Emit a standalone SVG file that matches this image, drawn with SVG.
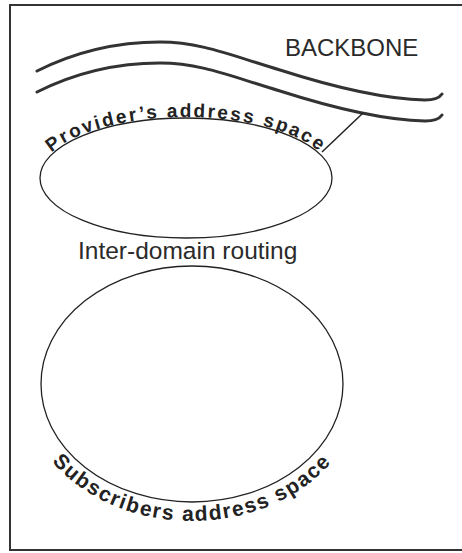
<svg xmlns="http://www.w3.org/2000/svg" xmlns:xlink="http://www.w3.org/1999/xlink" width="462" height="553" viewBox="0 0 462 553">
<style>
.frame{fill:none;stroke:#333;stroke-width:2}
.bb{fill:none;stroke:#333;stroke-width:3;stroke-linecap:round}
.ell{fill:none;stroke:#222;stroke-width:1.3}
.lbl{font-family:"Liberation Sans",Arial,sans-serif;fill:#2a2a2a}
.arc{font-family:"Liberation Sans",Arial,sans-serif;font-weight:bold;fill:#222}
.conn{stroke:#222;stroke-width:1.5;fill:none}
</style>
<defs>
<path id="topArc" d="M38,178 A148,61 0 0 1 334,178"/>
<path id="botArc" d="M22,384 A170,137 0 0 0 362,384"/>
</defs>
<rect width="462" height="553" fill="#fff"/>
<path class="frame" d="M470,5 H10 V550 H470"/>
<g id="backbone">
<path class="bb" d="M37,71 C75,52 115,42 160,42 C200,42 230,55 280,70 C330,86 380,99 425,100 C435,100 440,97 442,94"/>
<path class="bb" d="M37,92 C75,73 115,63 160,63 C200,63 230,76 280,91 C330,107 380,120 425,121 C435,121 440,118 442,115"/>
<text class="lbl" x="285" y="56" font-size="24">BACKBONE</text>
</g>
<g id="provider">
<ellipse class="ell" cx="186" cy="178" rx="146" ry="60"/>
<text class="arc" font-size="19" letter-spacing="2.2" text-anchor="middle"><textPath href="#topArc" xlink:href="#topArc" startOffset="50%">Provider’s address space</textPath></text>
</g>
<g id="interdomain">
<text class="lbl" x="78" y="259" font-size="24.5">Inter-domain routing</text>
</g>
<g id="subscribers">
<ellipse class="ell" cx="192" cy="384" rx="151" ry="118"/>
<text class="arc" font-size="21" letter-spacing="1.6" text-anchor="middle"><textPath href="#botArc" xlink:href="#botArc" startOffset="50%">Subscribers address space</textPath></text>
</g>
<g id="connectors">
<line class="conn" x1="363" y1="113" x2="322" y2="152"/>
</g>
</svg>
